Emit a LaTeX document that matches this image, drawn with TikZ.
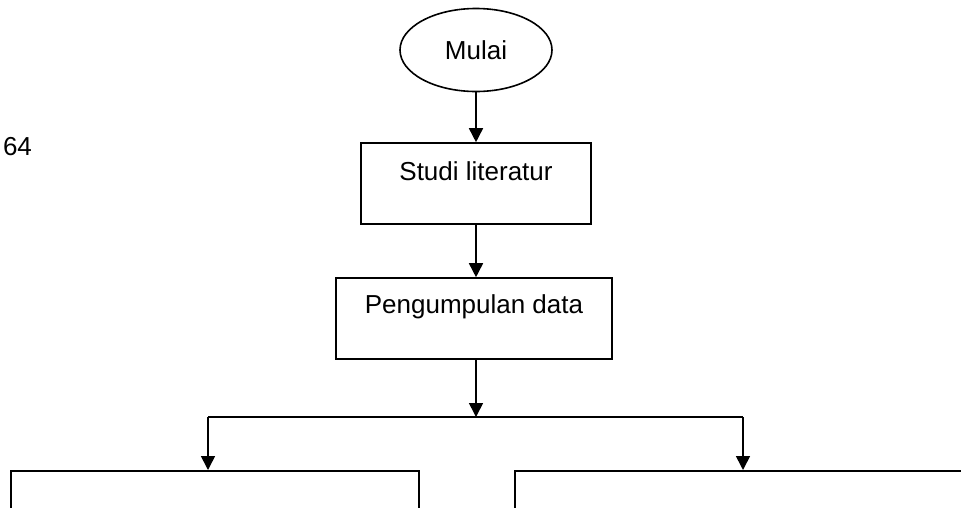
\documentclass[tikz,border=0pt]{standalone}
\usepackage{fontspec}
\setmainfont{Liberation Sans}
\usetikzlibrary{shapes.geometric,arrows.meta,positioning}

\begin{document}
\begin{tikzpicture}[x=1pt,y=-1pt,line width=1.6pt,
    font=\fontsize{26}{30}\selectfont,
    arr/.style={-{Triangle[length=14pt,width=14pt]}},
    kotak/.style={draw,rectangle,inner sep=0pt,align=center},
    mulaibox/.style={draw,ellipse,inner sep=0pt,minimum width=152pt,minimum height=83pt}]
    % frame of the page
    \useasboundingbox (0,0) rectangle (961,507);
    \clip (0,0) rectangle (961,507);
    % page number
    \node (hal) at (17.5,147) {64};
    % start
    \node[mulaibox] (mulai) at (476,50) {Mulai};
    % steps
    \node[kotak,minimum width=230pt,text height=37pt,text depth=44pt] (studi) at (476,183.5) {Studi literatur};
    \node[kotak,minimum width=276pt,text height=35pt,text depth=46pt] (kumpul) at (474,318.5) {Pengumpulan data};
    % two branches (cut by the page)
    \node[kotak,minimum width=408pt,minimum height=90pt,anchor=north west] (kiri) at (10,470) {};
    \node[kotak,minimum width=500pt,minimum height=90pt,anchor=north west] (kanan) at (514,470) {};
    % split point
    \coordinate (pisah) at (476,417);
    \coordinate (pkiri) at (208,417);
    \coordinate (pkanan) at (743,417);
    % connectors
    \draw[arr] (mulai) -- (studi);
    \draw[arr] (studi.south -| mulai) -- (kumpul.north -| mulai);
    \draw[arr] (kumpul.south -| pisah) -- (pisah);
    \draw (pkiri) -- (pkanan);
    \draw[arr] (pkiri) -- (pkiri |- kiri.north);
    \draw[arr] (pkanan) -- (pkanan |- kanan.north);
\end{tikzpicture}
\end{document}
